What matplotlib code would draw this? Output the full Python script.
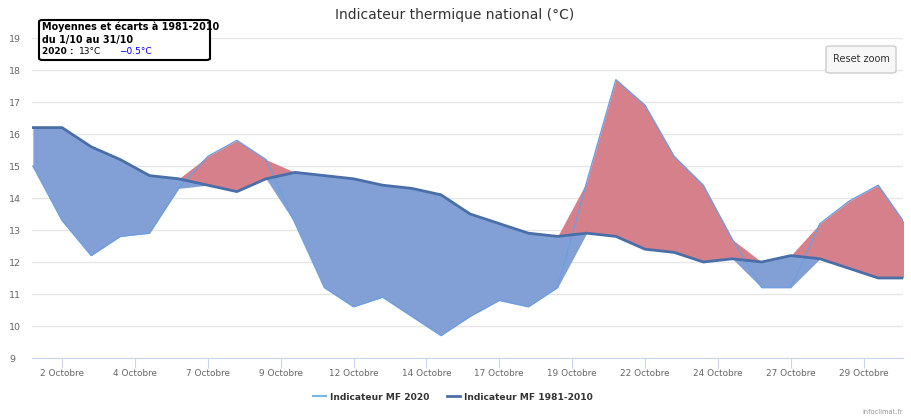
import matplotlib.pyplot as plt
from matplotlib.lines import Line2D
from matplotlib.patches import FancyBboxPatch
import numpy as np

# Daily values, 1 to 31 October
days = list(range(1, 32))
t2020 = [15.0, 13.3, 12.2, 12.8, 12.9, 14.3, 15.3, 15.8, 15.2, 13.2,
         11.2, 10.6, 10.9, 10.3, 9.7, 10.3, 10.8, 10.6, 11.2, 14.5,
         17.7, 16.9, 15.3, 14.4, 12.7, 11.2, 11.2, 13.2, 13.9, 14.4, 13.1]
t_normal = [16.2, 16.2, 15.6, 15.2, 14.7, 14.6, 14.4, 14.2, 14.6, 14.8,
            14.7, 14.6, 14.4, 14.3, 14.1, 13.5, 13.2, 12.9, 12.8, 12.9,
            12.8, 12.4, 12.3, 12.0, 12.1, 12.0, 12.2, 12.1, 11.8, 11.5, 11.5]
tick_days = [2, 4.5, 7, 9.5, 12, 14.5, 17, 19.5, 22, 24.5, 27, 29.5]
tick_labels = ["2 Octobre", "4 Octobre", "7 Octobre", "9 Octobre", "12 Octobre",
               "14 Octobre", "17 Octobre", "19 Octobre", "22 Octobre",
               "24 Octobre", "27 Octobre", "29 Octobre"]
y_ticks = list(range(9, 20))

plt.rcParams['font.family'] = ['DejaVu Sans']

W, H = 911, 419
fig = plt.figure(figsize=(W / 100, H / 100), dpi=100)
ax = fig.add_axes([32 / W, (H - 358) / H, (903 - 32) / W, (358 - 38) / H])

x = np.array(days)
a = np.array(t2020)
n = np.array(t_normal)

# warm / cold deviations as two range areas (per-point, like the original)
ax.fill_between(x, n, np.maximum(a, n), color='#d5808a', lw=0, zorder=2)
ax.fill_between(x, np.minimum(a, n), n, color='#82a0d6', lw=0, zorder=2)
ax.plot(x, a, color='#6f9fdc', lw=1, zorder=3)
ax.plot(x, n, color='#4a6fa8', lw=2, zorder=4)

ax.set_xlim(0.97, 30.85)
ax.set_ylim(9, 19)
ax.set_yticks(y_ticks)
ax.set_yticklabels([str(v) for v in y_ticks], fontsize=6.8, color='#666666')
ax.set_xticks(tick_days)
ax.set_xticklabels(tick_labels, fontsize=6.4, color='#666666')
ax.tick_params(axis='x', length=7, color='#ccd6eb', pad=1)
ax.tick_params(axis='y', length=0, pad=16.5)
for lab in ax.get_yticklabels():
    lab.set_horizontalalignment('left')
ax.grid(axis='y', color='#e6e6e6', lw=1, zorder=0)
for s in ['top', 'right', 'left']:
    ax.spines[s].set_visible(False)
ax.spines['bottom'].set_color('#ccd6eb')
ax.set_axisbelow(True)

fig.text(455 / W, 1 - 15 / H, "Indicateur thermique national (°C)", ha='center', va='center',
         fontsize=10, color='#333333')

# info box top left
box = FancyBboxPatch((39 / W, 1 - 60 / H), 171 / W, 40 / H, boxstyle="round,pad=0,rounding_size=0.004",
                     transform=fig.transFigure, facecolor='white', edgecolor='black', lw=1.5, zorder=10)
fig.patches.append(box)
fig.text(42 / W, 1 - 27 / H, "Moyennes et écarts à 1981-2010", fontsize=6.9, fontweight='bold',
         va='center', ha='left', zorder=11)
fig.text(42 / W, 1 - 40 / H, "du 1/10 au 31/10", fontsize=6.9, fontweight='bold',
         va='center', ha='left', zorder=11)
fig.text(42 / W, 1 - 52 / H, "2020 :", fontsize=6.5, fontweight='bold', va='center', ha='left', zorder=11)
fig.text(79 / W, 1 - 52 / H, "13°C", fontsize=6.5, va='center', ha='left', zorder=11)
fig.text(119 / W, 1 - 52 / H, "\u22120.5°C", fontsize=6.5, color='blue', va='center', ha='left', zorder=11)

# reset zoom button
btn = FancyBboxPatch((826 / W, 1 - 73 / H), 70 / W, 27 / H, boxstyle="round,pad=0,rounding_size=0.004",
                     transform=fig.transFigure, facecolor='#f7f7f7', edgecolor='#cccccc', lw=1, zorder=10)
fig.patches.append(btn)
fig.text(861 / W, 1 - 59.5 / H, "Reset zoom", fontsize=7, color='#333333', ha='center', va='center', zorder=11)

handles = [Line2D([], [], color='#7cb5ec', lw=1.5), Line2D([], [], color='#4a6fa8', lw=2)]
fig.legend(handles, ["Indicateur MF 2020", "Indicateur MF 1981-2010"], loc='center',
           bbox_to_anchor=(453 / W, 1 - 397 / H), ncol=2, frameon=False,
           prop={'size': 6.6, 'weight': 'bold'}, labelcolor='#333333',
           handlelength=1.4, handletextpad=0.4, columnspacing=2.0)

fig.text(903 / W, 1 - 412 / H, "infoclimat.fr", fontsize=4.8, color='#999999', ha='right', va='center')

fig.savefig("out.png", dpi=100)
